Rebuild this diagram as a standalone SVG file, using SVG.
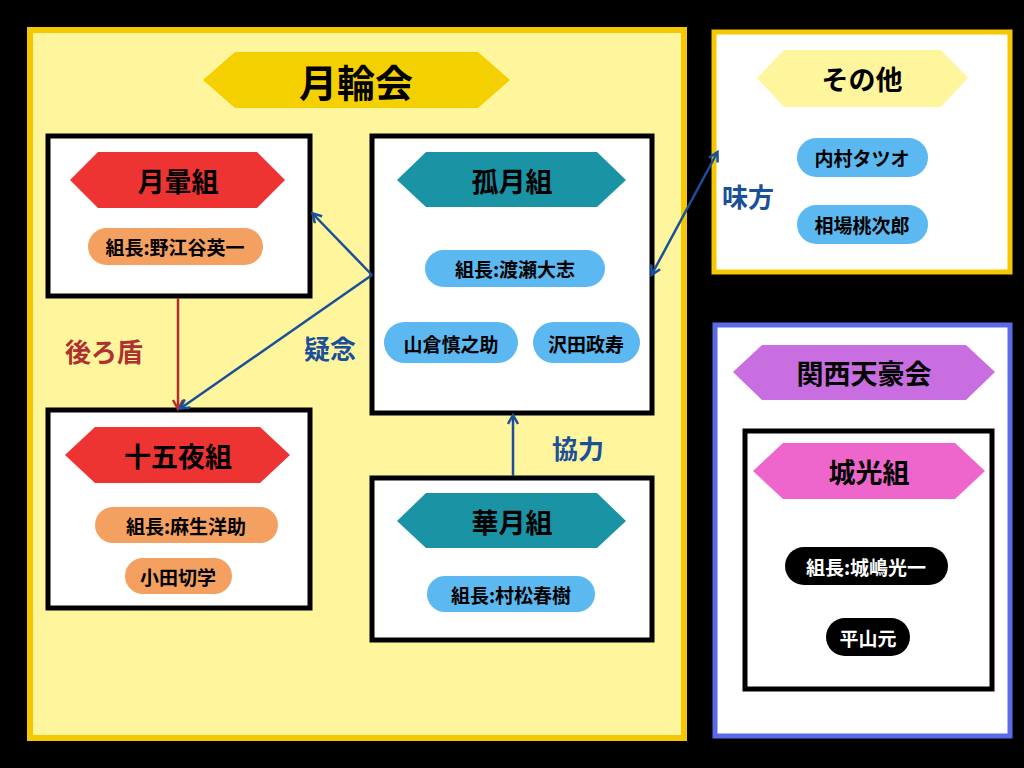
<svg xmlns="http://www.w3.org/2000/svg" width="1024" height="768" viewBox="0 0 1024 768">
<style>
text{font-family:"Noto Sans CJK JP","Noto Sans",sans-serif;font-weight:bold;text-anchor:middle;dominant-baseline:central}
.box{fill:#fff;stroke:#000;stroke-width:5}
.h{font-size:27px}
.p{font-size:19px}
.lb{font-size:26px}
</style>
<defs>
<marker id="ab" markerWidth="12" markerHeight="12" refX="9" refY="6" orient="auto-start-reverse" markerUnits="userSpaceOnUse"><path d="M1,1 L10,6 L1,11" fill="none" stroke="#1a4f9a" stroke-width="2.5"/></marker>
<marker id="ar" markerWidth="12" markerHeight="12" refX="9" refY="6" orient="auto" markerUnits="userSpaceOnUse"><path d="M1,1 L10,6 L1,11" fill="none" stroke="#b03030" stroke-width="2.5"/></marker>
</defs>
<rect width="1024" height="768" fill="#000"/>
<g id="gekkinkai">
<rect x="30" y="30" width="654" height="708" fill="#fff59d" stroke="#f5c800" stroke-width="6"/>
<polygon points="203,80 235,52 478,52 510,80 478,108 235,108" fill="#f5d000"/>
<text x="356" y="80" style="font-size:38px">月輪会</text>
</g>
<g id="gekkun">
<rect class="box" x="48" y="136" width="262" height="160"/>
<polygon points="70,180 98,152 257,152 285,180 257,208 98,208" fill="#ee3333"/>
<text class="h" x="178" y="180">月暈組</text>
<rect x="88" y="228" width="175" height="37" rx="18.5" fill="#f4a060"/>
<text class="p" x="175" y="246">組長:野江谷英一</text>
</g>
<g id="jugoya">
<rect class="box" x="48" y="410" width="262" height="198"/>
<polygon points="65,455 95,427 260,427 290,455 260,483 95,483" fill="#ee3333"/>
<text class="h" x="178" y="455">十五夜組</text>
<rect x="95" y="507" width="183" height="36" rx="18" fill="#f4a060"/>
<text class="p" x="186" y="525">組長:麻生洋助</text>
<rect x="125" y="558" width="107" height="36" rx="18" fill="#f4a060"/>
<text class="p" x="178" y="576">小田切学</text>
</g>
<g id="kogetsu">
<rect class="box" x="372" y="136" width="280" height="277"/>
<polygon points="397,180 426,152 597,152 626,180 597,207 426,207" fill="#1a93a5"/>
<text class="h" x="512" y="180">孤月組</text>
<rect x="425" y="250" width="180" height="37" rx="18.5" fill="#5bb8f0"/>
<text class="p" x="515" y="268">組長:渡瀬大志</text>
<rect x="384" y="322" width="134" height="41" rx="20.5" fill="#5bb8f0"/>
<text class="p" x="451" y="343">山倉慎之助</text>
<rect x="533" y="322" width="107" height="41" rx="20.5" fill="#5bb8f0"/>
<text class="p" x="586" y="343">沢田政寿</text>
</g>
<g id="kagetsu">
<rect class="box" x="372" y="478" width="280" height="162"/>
<polygon points="397,521 426,493 597,493 626,521 597,548 426,548" fill="#1a93a5"/>
<text class="h" x="512" y="521">華月組</text>
<rect x="427" y="576" width="168" height="36" rx="18" fill="#5bb8f0"/>
<text class="p" x="511" y="594">組長:村松春樹</text>
</g>
<g id="sonota">
<rect x="714" y="32" width="296" height="240" fill="#fff" stroke="#f5c800" stroke-width="5"/>
<polygon points="757,78 784,50 941,50 968,78 941,107 784,107" fill="#fff59d"/>
<text class="h" x="862" y="78">その他</text>
<rect x="797" y="138" width="131" height="39" rx="19.5" fill="#5bb8f0"/>
<text class="p" x="862" y="157">内村タツオ</text>
<rect x="797" y="205" width="131" height="39" rx="19.5" fill="#5bb8f0"/>
<text class="p" x="862" y="224">相場桃次郎</text>
</g>
<g id="kansai">
<rect x="715" y="325" width="295" height="411" fill="#fff" stroke="#5b6be8" stroke-width="5"/>
<polygon points="733,372 762,345 966,345 995,372 966,400 762,400" fill="#c86ee0"/>
<text class="h" x="864" y="372">関西天豪会</text>
</g>
<g id="joukou">
<rect class="box" x="745" y="431" width="247" height="258"/>
<polygon points="753,471 783,443 955,443 985,471 955,499 783,499" fill="#ee66cc"/>
<text class="h" x="869" y="471">城光組</text>
<rect x="785" y="547" width="163" height="38" rx="19" fill="#000"/>
<text class="p" x="866" y="566" fill="#fff">組長:城嶋光一</text>
<rect x="826" y="618" width="84" height="38" rx="19" fill="#000"/>
<text class="p" x="868" y="637" fill="#fff">平山元</text>
</g>
<g id="connectors" fill="none" stroke-width="2.5">
<line x1="178" y1="298" x2="178" y2="408" stroke="#b03030" marker-end="url(#ar)"/>
<line x1="372" y1="275" x2="313" y2="214" stroke="#1a4f9a" marker-end="url(#ab)"/>
<line x1="372" y1="275" x2="181" y2="408" stroke="#1a4f9a" marker-end="url(#ab)"/>
<line x1="513" y1="476" x2="513" y2="416" stroke="#1a4f9a" marker-end="url(#ab)"/>
<line x1="652" y1="274" x2="717" y2="153" stroke="#1a4f9a" marker-start="url(#ab)" marker-end="url(#ab)"/>
<text class="lb" x="104" y="350" fill="#b03030" stroke="none">後ろ盾</text>
<text class="lb" x="330" y="347" fill="#1a4f9a" stroke="none">疑念</text>
<text class="lb" x="578" y="447" fill="#1a4f9a" stroke="none">協力</text>
<text class="lb" x="748" y="195" fill="#1a4f9a" stroke="none">味方</text>
</g>
</svg>
